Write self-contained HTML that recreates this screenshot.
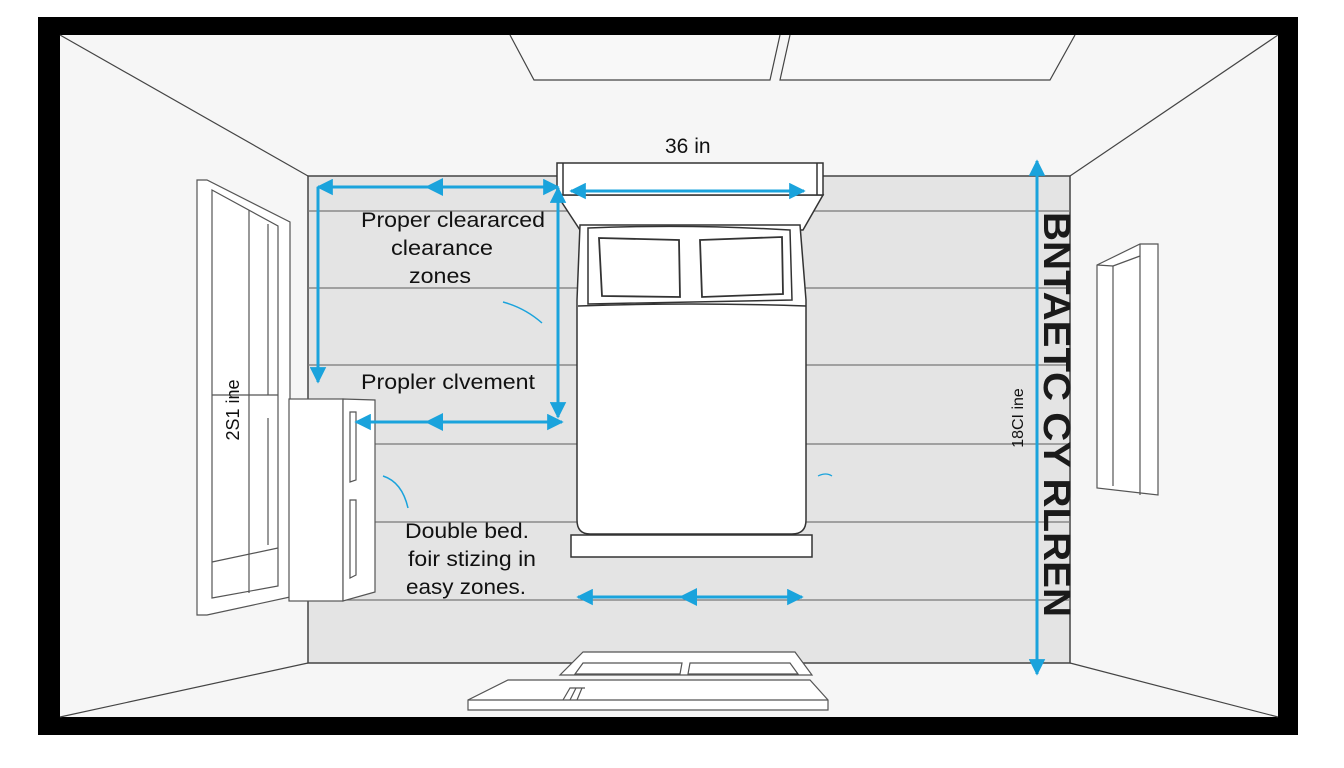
<!DOCTYPE html>
<html><head><meta charset="utf-8"><style>
html,body{margin:0;padding:0;background:#fff;}
svg{display:block;}
text{font-family:"Liberation Sans",Arial,sans-serif;}
</style></head><body>
<svg width="1344" height="768" viewBox="0 0 1344 768" xmlns="http://www.w3.org/2000/svg">
<defs>
<marker id="ah" viewBox="0 0 10 10" refX="9" refY="5" markerWidth="5.5" markerHeight="5.5" orient="auto-start-reverse"><path d="M0,0 L10,5 L0,10 z" fill="#1aa3dc"/></marker>
</defs>
<rect x="0" y="0" width="1344" height="768" fill="#fff"/>
<rect x="38" y="17" width="1260" height="718" fill="#000"/>
<rect x="60" y="35" width="1218" height="682" fill="#f6f6f6"/>
<rect x="308" y="176" width="762" height="487" fill="#e4e4e4" stroke="#444" stroke-width="1.5"/>
<g stroke="#777" stroke-width="1.2">
<line x1="308" y1="211" x2="1070" y2="211"/>
<line x1="308" y1="288" x2="1070" y2="288"/>
<line x1="308" y1="365" x2="1070" y2="365"/>
<line x1="308" y1="444" x2="1070" y2="444"/>
<line x1="308" y1="522" x2="1070" y2="522"/>
<line x1="308" y1="600" x2="1070" y2="600"/>
</g>
<g stroke="#444" stroke-width="1.2" fill="none">
<line x1="60" y1="35" x2="308" y2="176"/>
<line x1="1278" y1="35" x2="1070" y2="176"/>
<line x1="60" y1="717" x2="308" y2="663"/>
<line x1="1278" y1="717" x2="1070" y2="663"/>
<path d="M510,35 L534,80 L770,80 L780,35" fill="#f8f8f8"/>
<path d="M790,35 L780,80 L1050,80 L1075,35" fill="#f8f8f8"/>
</g>
<g stroke="#555" stroke-width="1.2" fill="#fff">
<path d="M197,180 L207,180 L290,222 L290,597 L207,615 L197,615 z"/>
<path d="M212,190 L278,226 L278,586 L212,598 z"/>
<line x1="249" y1="210" x2="249" y2="593"/>
<line x1="268" y1="224" x2="268" y2="395"/>
<line x1="268" y1="418" x2="268" y2="545"/>
<line x1="212" y1="395" x2="278" y2="395"/>
<line x1="212" y1="562" x2="278" y2="548"/>
</g>
<g stroke="#555" stroke-width="1.2" fill="#fff">
<rect x="289" y="399" width="54" height="202"/>
<path d="M343,399 L375,400 L375,592 L343,601 z"/>
<path d="M350,412 L356,412 L356,480 L350,482 z"/>
<path d="M350,500 L356,500 L356,575 L350,578 z"/>
</g>
<g stroke="#555" stroke-width="1.2" fill="#fff">
<path d="M1097,265 L1140,244 L1158,244 L1158,495 L1097,488 z"/>
<line x1="1140" y1="244" x2="1140" y2="495"/>
<line x1="1113" y1="266" x2="1113" y2="486"/>
<line x1="1097" y1="265" x2="1113" y2="266"/>
<line x1="1113" y1="266" x2="1140" y2="256"/>
</g>
<g stroke="#333" stroke-width="1.5" fill="#fff">
<path d="M557,195 L580,230 L803,230 L823,195 z"/>
<rect x="557" y="163" width="266" height="32"/>
<line x1="563" y1="163" x2="563" y2="195"/>
<line x1="817" y1="163" x2="817" y2="195"/>
<rect x="571" y="535" width="241" height="22"/>
<path d="M580,225 L800,225 L806,300 L806,520 Q806,534 792,534 L590,534 Q577,534 577,520 L577,300 z"/>
<path d="M588,228 Q690,224 790,230 L792,300 L588,304 z"/>
<path d="M599,238 L679,240 L680,297 L602,296 z" stroke-width="1.8"/>
<path d="M700,240 L782,237 L783,294 L702,297 z" stroke-width="1.8"/>
<path d="M578,306 Q690,302 806,306" fill="none"/>
</g>
<g stroke="#555" stroke-width="1.2" fill="#fff">
<path d="M583,652 L795,652 L812,675 L560,675 z"/>
<path d="M583,663 L682,663 L680,674 L575,674 z"/>
<path d="M690,663 L790,663 L798,674 L688,674 z"/>
<path d="M508,680 L810,680 L828,700 L828,710 L468,710 L468,700 z"/>
<line x1="468" y1="700" x2="828" y2="700"/>
<path d="M563,700 L570,688 L585,688 M570,700 L576,688 M577,700 L582,688"/>
</g>
<g stroke="#1aa3dc" stroke-width="3" fill="none">
<line x1="318" y1="187" x2="558" y2="187" marker-start="url(#ah)" marker-end="url(#ah)"/>
<line x1="318" y1="187" x2="318" y2="382" marker-end="url(#ah)"/>
<line x1="558" y1="188" x2="558" y2="417" marker-start="url(#ah)" marker-end="url(#ah)"/>
<line x1="356" y1="422" x2="562" y2="422" marker-start="url(#ah)" marker-end="url(#ah)"/>
<line x1="571" y1="191" x2="804" y2="191" marker-start="url(#ah)" marker-end="url(#ah)"/>
<line x1="578" y1="597" x2="802" y2="597" marker-start="url(#ah)" marker-end="url(#ah)"/>
<line x1="1037" y1="161" x2="1037" y2="674" marker-start="url(#ah)" marker-end="url(#ah)"/>
<path d="M503,302 Q525,308 542,323" stroke-width="1.5"/>
<path d="M383,476 Q402,482 408,508" stroke-width="1.5"/>
<path d="M818,476 Q826,472 832,476" stroke-width="1.2"/>
</g>
<g fill="#1aa3dc">
<path d="M425,187 l18,-9 v18 z"/>
<path d="M425,422 l18,-9 v18 z"/>
<path d="M679,597 l18,-9 v18 z"/>
</g>
<g fill="#111" font-size="21">
<text x="665" y="153">36 in</text>
<text x="361" y="227" textLength="184" lengthAdjust="spacingAndGlyphs">Proper cleararced</text>
<text x="391" y="255" textLength="102" lengthAdjust="spacingAndGlyphs">clearance</text>
<text x="409" y="283" textLength="62" lengthAdjust="spacingAndGlyphs">zones</text>
<text x="361" y="389" textLength="174" lengthAdjust="spacingAndGlyphs">Propler clvement</text>
<text x="405" y="538" textLength="124" lengthAdjust="spacingAndGlyphs">Double bed.</text>
<text x="408" y="566" textLength="128" lengthAdjust="spacingAndGlyphs">foir stizing in</text>
<text x="406" y="594" textLength="120" lengthAdjust="spacingAndGlyphs">easy zones.</text>
</g>
<text transform="translate(239,410) rotate(-90)" font-size="18" text-anchor="middle" fill="#111">2S1 ine</text>
<text transform="translate(1023,418) rotate(-90)" font-size="16" text-anchor="middle" fill="#111">18CI ine</text>
<text transform="translate(1044,212) rotate(90)" font-size="38" font-weight="bold" fill="#1a1a1a" textLength="405" lengthAdjust="spacingAndGlyphs">BNTAETC CY RLREN</text>
</svg>
</body></html>
